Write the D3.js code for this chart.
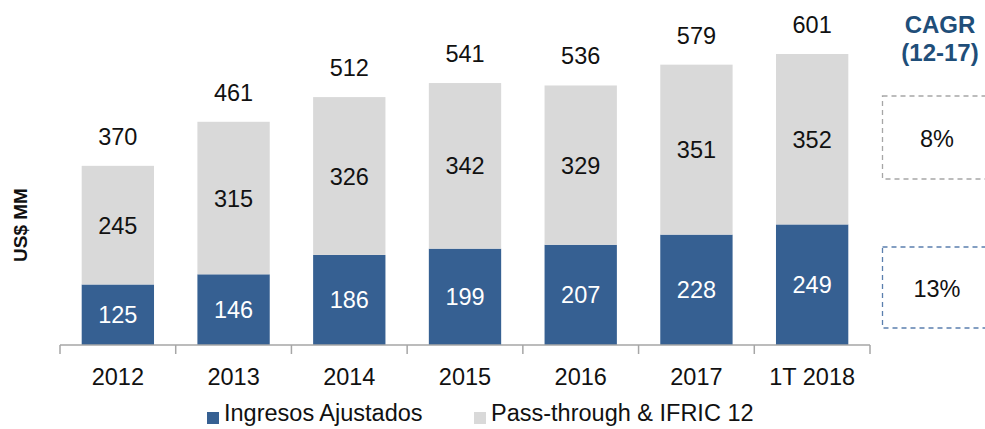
<!DOCTYPE html>
<html>
<head>
<meta charset="utf-8">
<script src="https://cdn.jsdelivr.net/npm/d3@7"></script>
<style>
  body { margin: 0; background: #fff; }
  text { font-family: Arial, "Liberation Sans", sans-serif; }
</style>
</head>
<body>
<div id="chart"></div>
<script>
const width = 985;
const height = 429;

const years = ["2012", "2013", "2014", "2015", "2016", "2017", "1T 2018"];
const ajustados = [125, 146, 186, 199, 207, 228, 249];
const passThrough = [245, 315, 326, 342, 329, 351, 352];
const totals = [370, 461, 512, 541, 536, 579, 601];
const seriesNames = ["Ingresos Ajustados", "Pass-through & IFRIC 12"];
const cagrValues = ["8%", "13%"];

const blue = "#366092";
const grey = "#d9d9d9";
const navy = "#1f4e79";
const fs = 23.5;

const svg = d3.select("#chart").append("svg")
    .attr("width", width).attr("height", height);

const x = d3.scaleBand().domain(years).range([60, 870]).paddingInner(0.375).paddingOuter(0.1875);
const y = d3.scaleLinear().domain([0, 601]).range([345, 54]);

const data = years.map((yr, i) => ({ yr, a: ajustados[i], p: passThrough[i], t: totals[i] }));

// bars
const g = svg.append("g");
g.selectAll(".bar-a").data(data).join("rect")
    .attr("class", "bar-a")
    .attr("x", d => x(d.yr)).attr("width", x.bandwidth())
    .attr("y", d => y(d.a)).attr("height", d => y(0) - y(d.a))
    .attr("fill", blue);

g.selectAll(".bar-p").data(data).join("rect")
    .attr("class", "bar-p")
    .attr("x", d => x(d.yr)).attr("width", x.bandwidth())
    .attr("y", d => y(d.a + d.p)).attr("height", d => y(d.a) - y(d.a + d.p))
    .attr("fill", grey);

// labels
g.selectAll(".lab-a").data(data).join("text")
    .attr("class", "lab-a")
    .attr("x", d => x(d.yr) + x.bandwidth() / 2)
    .attr("y", d => (y(0) + y(d.a)) / 2 + 8.5)
    .attr("text-anchor", "middle").attr("font-size", fs).attr("fill", "#fff")
    .text(d => d.a);

g.selectAll(".lab-p").data(data).join("text")
    .attr("class", "lab-p")
    .attr("x", d => x(d.yr) + x.bandwidth() / 2)
    .attr("y", d => (y(d.a) + y(d.a + d.p)) / 2 + 8.5)
    .attr("text-anchor", "middle").attr("font-size", fs).attr("fill", "#111")
    .text(d => d.p);

g.selectAll(".lab-t").data(data).join("text")
    .attr("class", "lab-t")
    .attr("x", d => x(d.yr) + x.bandwidth() / 2)
    .attr("y", d => y(d.t) - 21)
    .attr("text-anchor", "middle").attr("font-size", fs).attr("fill", "#111")
    .text(d => d.t);

// x axis
const axis = svg.append("g").attr("transform", `translate(0,${y(0)})`);
axis.append("line").attr("x1", 60).attr("x2", 870).attr("stroke", "#a6a6a6").attr("stroke-width", 1.5);
d3.range(years.length + 1).forEach(i => {
    const tx = 60 + i * (810 / years.length);
    axis.append("line").attr("x1", tx).attr("x2", tx).attr("y1", 0).attr("y2", 9)
        .attr("stroke", "#a6a6a6").attr("stroke-width", 1.5);
});
axis.selectAll(".xt").data(years).join("text")
    .attr("class", "xt")
    .attr("x", d => x(d) + x.bandwidth() / 2)
    .attr("y", 40)
    .attr("text-anchor", "middle").attr("font-size", fs).attr("fill", "#111")
    .text(d => d);

// y label
svg.append("text")
    .attr("transform", "translate(27,225) rotate(-90)")
    .attr("text-anchor", "middle").attr("font-size", 19).attr("font-weight", "bold")
    .attr("fill", "#111")
    .text("US$ MM");

// legend
const legend = svg.append("g").attr("transform", "translate(0,421)");
const legX = [207, 474];
[blue, grey].forEach((c, i) => {
    legend.append("rect").attr("x", legX[i]).attr("y", -9).attr("width", 12).attr("height", 12).attr("fill", c);
    legend.append("text").attr("x", legX[i] + 17).attr("y", 0)
        .attr("font-size", fs).attr("fill", "#111").text(seriesNames[i]);
});

// CAGR
svg.append("text").attr("x", 940).attr("y", 33).attr("text-anchor", "middle")
    .attr("font-size", 24).attr("font-weight", "bold").attr("fill", navy).text("CAGR");
svg.append("text").attr("x", 940).attr("y", 61).attr("text-anchor", "middle")
    .attr("font-size", 24).attr("font-weight", "bold").attr("fill", navy).text("(12-17)");

const boxes = [
    { y0: 96, y1: 179, stroke: "#a6a6a6", label: cagrValues[0] },
    { y0: 247, y1: 328, stroke: "#5b7fae", label: cagrValues[1] }
];
boxes.forEach(b => {
    svg.append("rect").attr("x", 882.5).attr("y", b.y0).attr("width", 120).attr("height", b.y1 - b.y0)
        .attr("fill", "none").attr("stroke", b.stroke).attr("stroke-width", 1.3)
        .attr("stroke-dasharray", "5,4");
    svg.append("text").attr("x", 937).attr("y", (b.y0 + b.y1) / 2 + 9)
        .attr("text-anchor", "middle").attr("font-size", fs).attr("fill", "#111").text(b.label);
});
</script>
</body>
</html>
